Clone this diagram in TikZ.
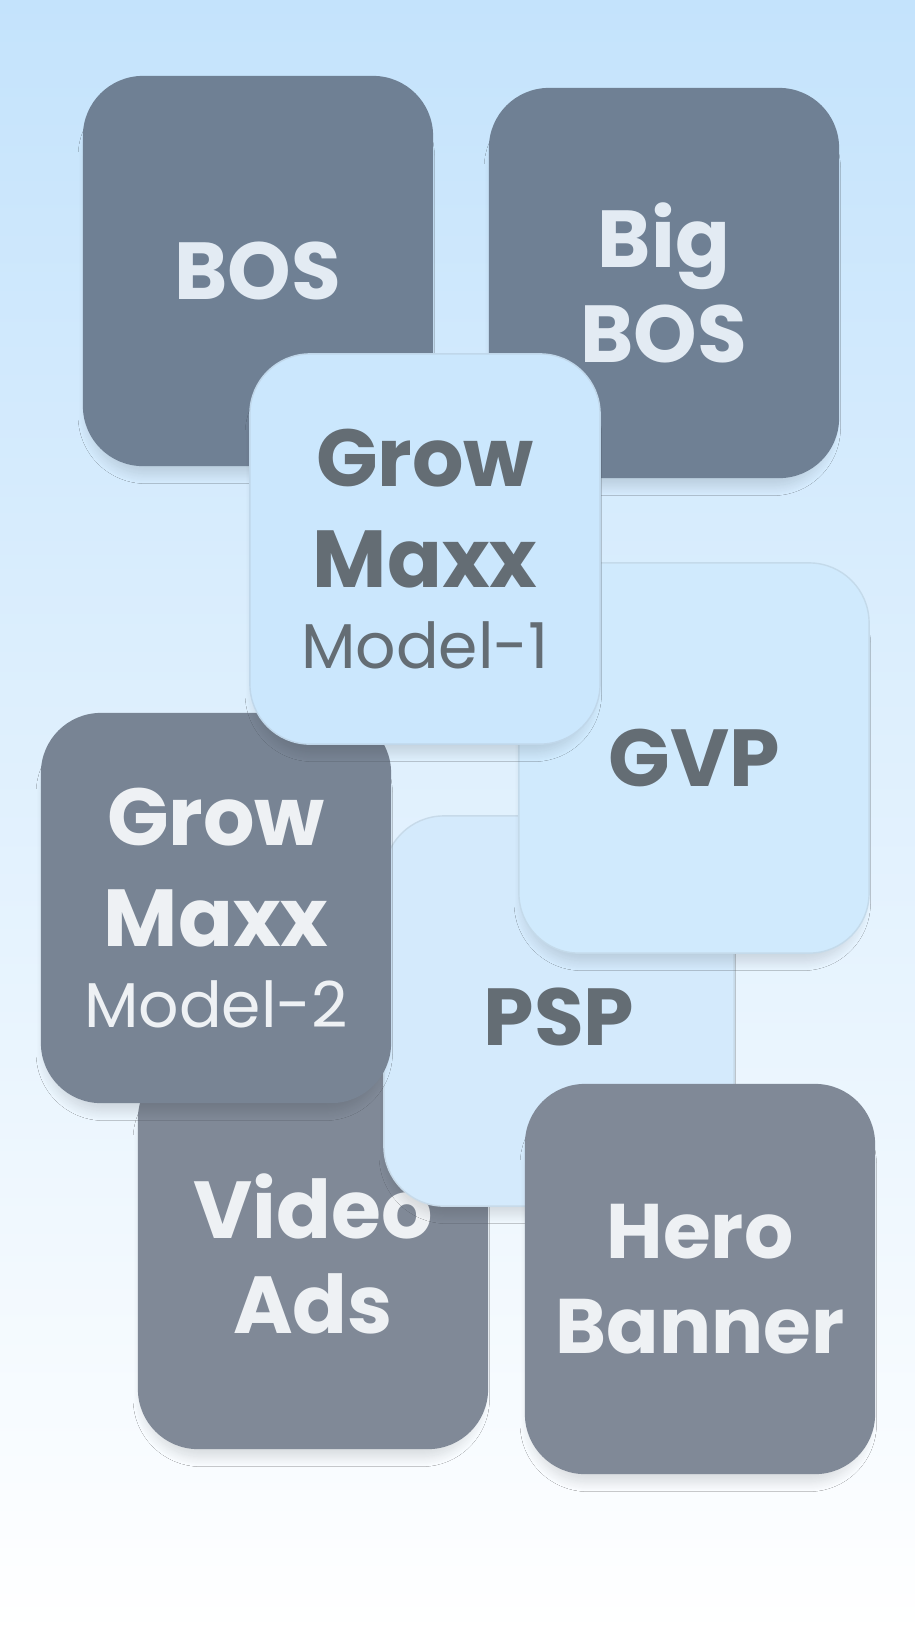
\documentclass[tikz,border=0pt]{standalone}
\usepackage{fontspec}
\setmainfont{Poppins}
\usepackage{tikz}
\usetikzlibrary{shadows, shadows.blur}
\definecolor{skyTop}{HTML}{C4E3FC}
\definecolor{skyMid}{HTML}{DDEFFE}
\definecolor{slateTop}{HTML}{6F8094}
\definecolor{slateMid}{HTML}{788494}
\definecolor{slateLow}{HTML}{808997}
\definecolor{iceA}{HTML}{CBE7FD}
\definecolor{iceB}{HTML}{D0EAFD}
\definecolor{iceC}{HTML}{D4EAFC}
\definecolor{inkLight}{HTML}{E3EBF3}
\definecolor{inkPale}{HTML}{EEF1F4}
\definecolor{inkDark}{HTML}{646D74}
\newcommand{\tileword}{\fontsize{23}{27}\selectfont\bfseries}
\newcommand{\modelword}[1]{{\mdseries\fontsize{18}{22}\selectfont #1}}

\begin{document}
\begin{tikzpicture}[x=0.01cm, y=-0.01cm,
  tile/.style={rectangle, rounded corners=0.6cm, minimum width=3.5cm, minimum height=3.9cm,
    inner sep=0pt, align=center, font=\tileword,
    blur shadow={shadow scale=0.96, shadow xshift=-0.5pt, shadow yshift=-4.5pt,
      shadow blur radius=3pt, shadow blur steps=20, shadow opacity=14}},
  darktile/.style={tile, fill=#1, text=inkLight},
  lighttile/.style={tile, fill=#1, draw=#1!85!gray, line width=0.4pt, text=inkDark}]
  \useasboundingbox (0,0) rectangle (915,1635);
  \shade[top color=skyTop, middle color=skyMid, bottom color=white] (0,0) rectangle (915,1635);

  % back row first, front tiles last
  \node[darktile=slateTop] (bos) at (258,271) {BOS};
  \node[darktile=slateTop] (bigbos) at (664,283) {Big\\BOS};
  \node[darktile=slateLow, text=inkPale] (video) at (313,1254) {Video\\Ads};
  \node[lighttile=iceC, text height=0.7cm] (psp) at (559,1011) {PSP};
  \node[darktile=slateLow, text=inkPale, font=\fontsize{22}{27}\selectfont\bfseries] (hero) at (700,1279) {Hero\\Banner};
  \node[lighttile=iceB] (gvp) at (694,758) {GVP};
  \node[darktile=slateMid, text=inkPale] (gm2) at (216,908) {Grow\\[2pt]Maxx\\[-4pt]\modelword{Model-2}};
  \node[lighttile=iceA] (gm1) at (425,549) {Grow\\[2pt]Maxx\\[-4pt]\modelword{Model-1}};
\end{tikzpicture}
\end{document}
